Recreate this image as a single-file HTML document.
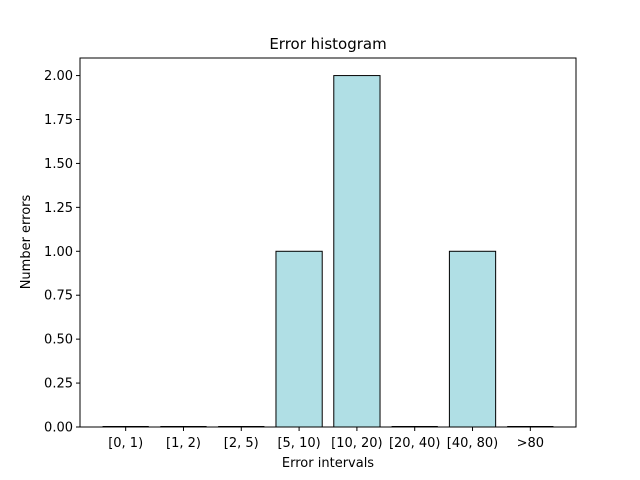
<!DOCTYPE html>
<html><head><meta charset="utf-8"><style>body{margin:0;background:#fff}svg{display:block;font-family:"DejaVu Sans","Liberation Sans",sans-serif}</style></head>
<body>
<svg id="chart" width="640" height="480">
<rect width="640" height="480" fill="#fff"/>
<text x="328" y="49" font-size="15" text-anchor="middle">Error histogram</text>
<g id="bars"></g>
<rect x="80" y="58" width="496" height="369" fill="none" stroke="#000" stroke-width="1"/>
<g id="xticks" font-size="13"></g>
<g id="yticks" font-size="13"></g>
<text x="328" y="467" font-size="13" text-anchor="middle">Error intervals</text>
<text transform="translate(30,242) rotate(-90)" font-size="13" text-anchor="middle">Number errors</text>
</svg>
<script>
const categories=["[0, 1)","[1, 2)","[2, 5)","[5, 10)","[10, 20)","[20, 40)","[40, 80)",">80"];
const values=[0,0,0,1,2,0,1,0];
const yTicks=[0,0.25,0.5,0.75,1.0,1.25,1.5,1.75,2.0];
const NS="http://www.w3.org/2000/svg";
const x0=80,x1=576,y0=427,y1=58;
const xmin=-0.79,xmax=categories.length-1+0.79,ymax=2.1;
const xs=v=>x0+(v-xmin)/(xmax-xmin)*(x1-x0);
const ys=v=>y0-v/ymax*(y0-y1);
const bw=(xs(0.8)-xs(0));
const bars=document.getElementById('bars'),xt=document.getElementById('xticks'),yt=document.getElementById('yticks');
categories.forEach((c,i)=>{
 const top=ys(values[i]);
 if(values[i]===0){
  const z=document.createElementNS(NS,'line');
  
  
  z.setAttribute('x1',xs(i)-bw/2);z.setAttribute('x2',xs(i)+bw/2);z.setAttribute('y1',y0-0.5);z.setAttribute('y2',y0-0.5);z.setAttribute('stroke','#000');z.setAttribute('stroke-width','1');
  bars.appendChild(z);
 } else {
  const r=document.createElementNS(NS,'rect');
  
  
  r.setAttribute('x',xs(i)-bw/2);r.setAttribute('y',top);r.setAttribute('width',bw);r.setAttribute('height',y0-top);
  r.setAttribute('fill','#b0dfe5');r.setAttribute('stroke','#000');r.setAttribute('stroke-width','1');
  bars.appendChild(r);
 }
 const l=document.createElementNS(NS,'line');
 
 
 l.setAttribute('x1',xs(i));l.setAttribute('x2',xs(i));l.setAttribute('y1',y0);l.setAttribute('y2',y0+4);l.setAttribute('stroke','#000');
 xt.appendChild(l);
 const t=document.createElementNS(NS,'text');
 
 
 t.setAttribute('x',xs(i));t.setAttribute('y',y0+20);t.setAttribute('text-anchor','middle');t.textContent=c;
 xt.appendChild(t);
});
yTicks.forEach(v=>{
 const l=document.createElementNS(NS,'line');
 
 
 l.setAttribute('x1',x0-4);l.setAttribute('x2',x0);l.setAttribute('y1',ys(v));l.setAttribute('y2',ys(v));l.setAttribute('stroke','#000');
 yt.appendChild(l);
 const t=document.createElementNS(NS,'text');
 
 
 t.setAttribute('x',x0-7);t.setAttribute('y',ys(v)+4.5);t.setAttribute('text-anchor','end');t.textContent=v.toFixed(2);
 yt.appendChild(t);
});
</script>
</body></html>
